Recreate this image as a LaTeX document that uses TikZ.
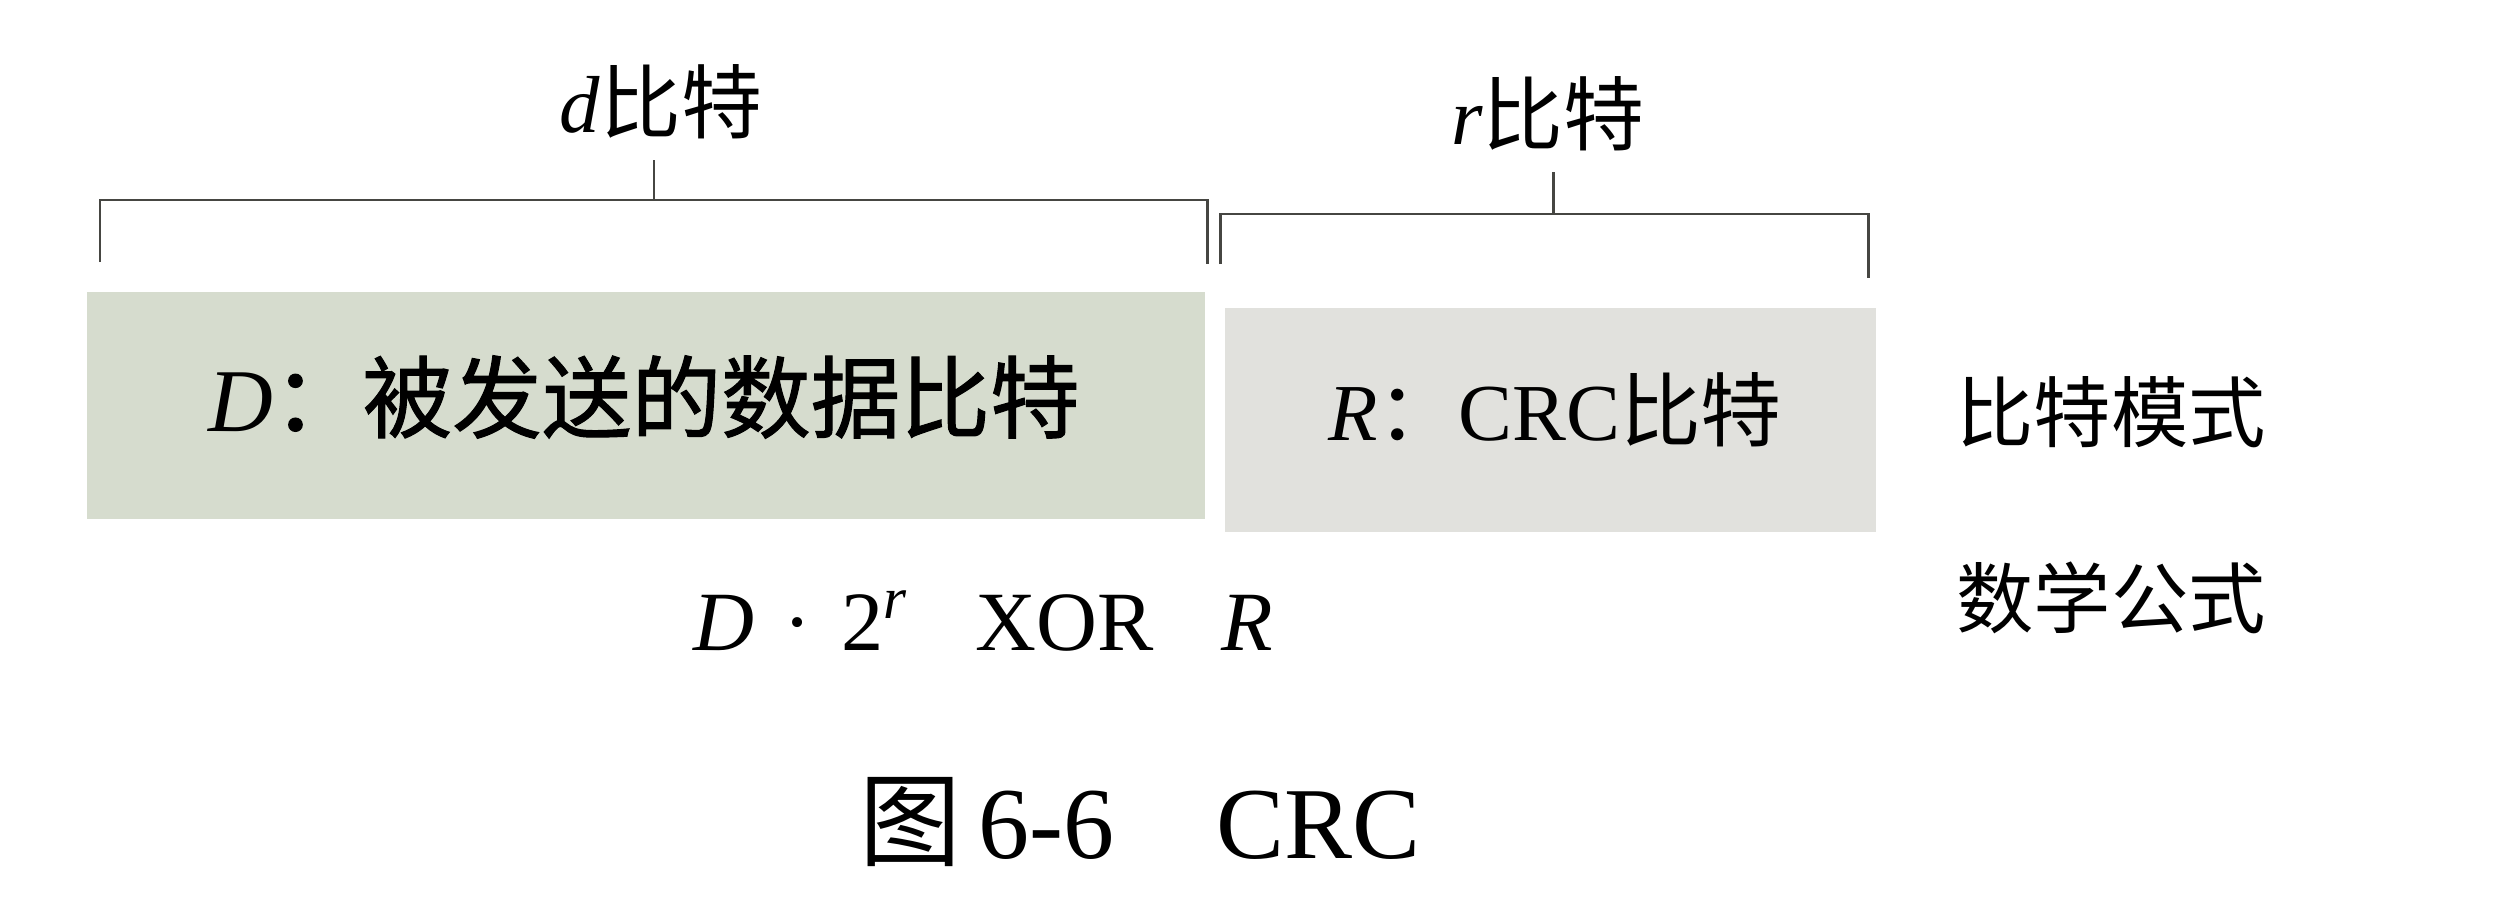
\documentclass[tikz,border=0pt]{standalone}
\usepackage{fontspec}
\setmainfont{Liberation Serif}
\newfontfamily\cjk{Noto Sans CJK SC}
\newfontfamily\cjkheavy[FakeBold=1.2]{Noto Sans CJK SC}
\definecolor{boxdfill}{RGB}{214,220,206}
\definecolor{boxrfill}{RGB}{225,225,221}
\definecolor{brkcol}{RGB}{70,70,66}
\tikzset{
  bitbox/.style={draw=none,inner sep=0pt},
  brk/.style={draw=brkcol,line width=0.85pt},
  lbl/.style={inner sep=0.75pt,anchor=center}
}

\begin{document}
\begin{tikzpicture}[x=0.1mm,y=0.1mm,yscale=-1,xscale=1]
    \useasboundingbox (0,0) rectangle (2496,908);

    %Shape: Rectangle [id:boxD]
    \fill[boxdfill] (87,292) rectangle (1205,519);
    %Shape: Rectangle [id:boxR]
    \fill[boxrfill] (1225,308) rectangle (1876,532);

    %Bracket: d bits
    \draw[brk] (100,262) -- (100,200) -- (1207,200) -- (1207,264);
    \draw[brk] (654,200) -- (654,160);
    %Bracket: r bits
    \draw[brk] (1220,264) -- (1220,214) -- (1868,214) -- (1868,278);
    \draw[brk] (1553,214) -- (1553,172);

    % Text Node
    \node[lbl,font=\fontsize{23}{28}\selectfont] (labd) at (661,102) {\itshape d\upshape{\cjk 比特}};
    % Text Node
    \node[lbl,font=\fontsize{23}{28}\selectfont] (labr) at (1548,114) {\itshape r\upshape{\cjk 比特}};
    % Text Node
    \node[lbl,font=\fontsize{25.5}{30}\selectfont] (txtd) at (644,397) {\itshape D\upshape{\cjkheavy ：被发送的数据比特}};
    % Text Node
    \node[lbl,font=\fontsize{23}{28}\selectfont] (txtr) at (1555,410) {\itshape R\upshape{\cjk ：}CRC{\cjk 比特}};
    % Text Node
    \node[lbl,font=\fontsize{22}{28}\selectfont] (bitpat) at (2111,412) {\cjk 比特模式};
    % Text Node
    \node[lbl,font=\fontsize{24}{30}\selectfont] (formula) at (983,621) {\itshape D\upshape\hspace{0.35em}·\hspace{0.35em}2\textsuperscript{\itshape r}\hspace{0.8em}XOR\hspace{0.8em}\itshape R};
    % Text Node
    \node[lbl,font=\fontsize{22}{28}\selectfont] (mathf) at (2111,598) {\cjk 数学公式};
    % Text Node
    \node[lbl,font=\fontsize{29}{34}\selectfont] (caption) at (1140,822) {{\cjk 图}\,6-6\quad CRC};

\end{tikzpicture}
\end{document}
